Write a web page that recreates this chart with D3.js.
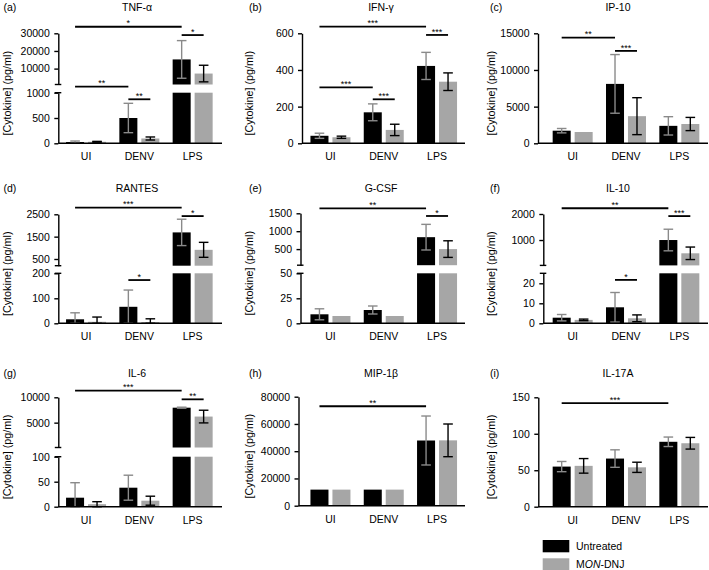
<!DOCTYPE html>
<html><head><meta charset="utf-8">
<script src="https://cdn.jsdelivr.net/npm/d3@7"></script>
<style>body{margin:0;background:#fff}svg{display:block}text{font-family:"Liberation Sans",Arial,sans-serif}</style>
</head><body><svg id="c" width="709" height="570"></svg>
<script>
const categories = ["UI", "DENV", "LPS"];
const seriesNames = ["Untreated", "MON-DNJ"];

// values are [mean, error]
const tnfUntreated = [[25,20],[500,290],[15200,10660]];
const tnfMonDnj    = [[30,8],[95,30],[7200,4700]];
const tnfTicks = [0,500,1000,10000,20000,30000];
const tnfBreak = 1000;
const tnfSig = [["UI",0,"LPS",0,33700,"*"],["LPS",0,"LPS",1,29000,"*"],["UI",0,"DENV",0,1120,"**","low"],["DENV",0,"DENV",1,870,"**"]];

const ifnUntreated = [[41,14],[169,46],[422,74]];
const ifnMonDnj    = [[33,6],[73,31],[336,48]];
const ifnTicks = [0,200,400,600];
const ifnSig = [["UI",0,"LPS",0,636,"***"],["LPS",0,"LPS",1,591,"***"],["UI",0,"DENV",0,305,"***"],["DENV",0,"DENV",1,240,"***"]];

const ipUntreated = [[1720,300],[8100,4000],[2380,1250]];
const ipMonDnj    = [[1540,null],[3700,2520],[2630,900]];
const ipTicks = [0,5000,10000,15000];
const ipSig = [["UI",0,"DENV",0,14400,"**"],["DENV",0,"DENV",1,12600,"***"]];

const rantesUntreated = [[16,26],[66,67],[1690,590]];
const rantesMonDnj    = [[6,19],[5,13],[910,335]];
const rantesTicks = [0,100,200,500,1500,2500];
const rantesBreak = 200;
const rantesSig = [["UI",0,"LPS",0,2800,"***"],["LPS",0,"LPS",1,2420,"*"],["DENV",0,"DENV",1,173,"*"]];

const gcsfUntreated = [[9,5.5],[13.3,4],[833,358]];
const gcsfMonDnj    = [[7.3,null],[7.3,null],[500,232]];
const gcsfTicks = [0,25,50,500,1000,1500];
const gcsfBreak = 50;
const gcsfSig = [["UI",0,"LPS",0,1640,"**"],["LPS",0,"LPS",1,1425,"*"]];

const il10Untreated = [[2.8,1.6],[8,7.4],[1000,415]];
const il10MonDnj    = [[1.7,0.4],[2.5,1.7],[490,240]];
const il10Ticks = [0,10,20,1000,2000];
const il10Break = 25;
const il10Sig = [["UI",0,"LPS",0,2220,"**"],["LPS",0,"LPS",1,1920,"***"],["DENV",0,"DENV",1,21.7,"*"]];

const il6Untreated = [[18,30],[38,25],[7950,100]];
const il6MonDnj    = [[5,5],[12,9],[6200,1250]];
const il6Ticks = [0,50,100,5000,10000];
const il6Break = 100;
const il6Sig = [["UI",0,"LPS",0,11300,"***"],["LPS",0,"LPS",1,9600,"**"]];

const mipUntreated = [[11800,null],[11800,null],[47850,17970]];
const mipMonDnj    = [[11800,null],[11800,null],[47960,12000]];
const mipTicks = [0,20000,40000,60000,80000];
const mipSig = [["UI",0,"LPS",0,73000,"**"]];

const il17Untreated = [[55,7],[66,12],[89,6.5]];
const il17MonDnj    = [[56,10],[54,7],[87,8]];
const il17Ticks = [0,50,100,150];
const il17Sig = [["UI",0,"LPS",0,142,"***"]];

const panels = [
  {tag:"(a)", title:"TNF-\u03B1", s:[tnfUntreated,tnfMonDnj], ticks:tnfTicks, brk:tnfBreak, sig:tnfSig, col:0,row:0, ax:58.3, base:143.3, top:33.3, lowTop:92.7, upBot:84.5},
  {tag:"(b)", title:"IFN-\u03B3", s:[ifnUntreated,ifnMonDnj], ticks:ifnTicks, sig:ifnSig, col:1,row:0, ax:302, base:143.3, top:33.3},
  {tag:"(c)", title:"IP-10", s:[ipUntreated,ipMonDnj], ticks:ipTicks, sig:ipSig, col:2,row:0, ax:538, base:143.3, top:33.3},
  {tag:"(d)", title:"RANTES", s:[rantesUntreated,rantesMonDnj], ticks:rantesTicks, brk:rantesBreak, sig:rantesSig, col:0,row:1, ax:58.3, base:323.3, top:214.3, lowTop:273.3, upBot:265.7},
  {tag:"(e)", title:"G-CSF", s:[gcsfUntreated,gcsfMonDnj], ticks:gcsfTicks, brk:gcsfBreak, sig:gcsfSig, col:1,row:1, ax:300.5, base:323.3, top:213.3, lowTop:273.3, upBot:265.2},
  {tag:"(f)", title:"IL-10", s:[il10Untreated,il10MonDnj], ticks:il10Ticks, brk:il10Break, sig:il10Sig, col:2,row:1, ax:543.3, base:323.3, top:214, lowTop:273.3, upBot:265.4},
  {tag:"(g)", title:"IL-6", s:[il6Untreated,il6MonDnj], ticks:il6Ticks, brk:il6Break, sig:il6Sig, col:0,row:2, ax:58.3, base:506.7, top:397.3, lowTop:456.7, upBot:447.5},
  {tag:"(h)", title:"MIP-1\u03B2", s:[mipUntreated,mipMonDnj], ticks:mipTicks, sig:mipSig, col:1,row:2, ax:298.5, base:505.7, top:396.7},
  {tag:"(i)", title:"IL-17A", s:[il17Untreated,il17MonDnj], ticks:il17Ticks, sig:il17Sig, col:2,row:2, ax:538.3, base:506.7, top:397.3}
];

const colBand = [[59.4,219.3],[303.8,463.7],[546,706]];
const colEnd = [222,465,708];
const colTitleX = [137,381,618];
const colTagX = [3.5,249,490];
const colYLabX = [11.3,252.5,495];
const rowTitleY = [10.7,191.5,376.5];
const barFill = ["#000000","#a6a6a6"];
const errColor = ["#8a8a8a","#000000"];
const FS = 10.5;

const svg = d3.select("#c");
svg.append("rect").attr("width",709).attr("height",570).attr("fill","#fff");
const fmt = d3.format("d");

panels.forEach(p => {
  const g = svg.append("g");
  const x = d3.scaleBand().domain(categories).range(colBand[p.col]).paddingInner(0).paddingOuter(0);
  const bw = x.bandwidth();
  const xi = d3.scaleBand().domain([0,1]).range([(bw-40)/2,(bw+40)/2]).paddingInner(0.18);
  const maxV = p.ticks[p.ticks.length-1];
  let lower, upper, y;
  if (p.brk !== undefined) {
    lower = d3.scaleLinear().domain([0,p.brk]).range([p.base,p.lowTop]);
    upper = d3.scaleLinear().domain([p.brk,maxV]).range([p.upBot,p.top]);
    y = v => v <= p.brk ? lower(v) : upper(v);
  } else {
    lower = d3.scaleLinear().domain([0,maxV]).range([p.base,p.top]);
    y = v => lower(v);
  }
  const cx = (c,si) => x(c) + xi(si) + xi.bandwidth()/2;

  // bars
  p.s.forEach((arr,si) => {
    arr.forEach((d,ci) => {
      const c = categories[ci];
      const x0 = x(c)+xi(si), w = xi.bandwidth();
      const m = d[0];
      if (p.brk !== undefined && m > p.brk) {
        g.append("rect").attr("x",x0).attr("y",p.lowTop).attr("width",w).attr("height",p.base-p.lowTop).attr("fill",barFill[si]);
        g.append("rect").attr("x",x0).attr("y",upper(m)).attr("width",w).attr("height",p.upBot-upper(m)).attr("fill",barFill[si]);
      } else {
        g.append("rect").attr("x",x0).attr("y",y(m)).attr("width",w).attr("height",p.base-y(m)).attr("fill",barFill[si]);
      }
    });
  });
  // error bars
  p.s.forEach((arr,si) => {
    arr.forEach((d,ci) => {
      if (d[1] == null) return;
      const c = categories[ci];
      const xc = cx(c,si);
      let lo = Math.max(0,d[0]-d[1]), hi = d[0]+d[1];
      if (p.brk !== undefined && d[0] > p.brk) lo = Math.max(lo,p.brk);
      const y1 = y(lo), y2 = y(hi);
      const eg = g.append("g").attr("stroke",errColor[si]).attr("stroke-width",1.4).attr("fill","none");
      eg.append("line").attr("x1",xc).attr("x2",xc).attr("y1",y1).attr("y2",y2);
      eg.append("line").attr("x1",xc-4.8).attr("x2",xc+4.8).attr("y1",y2).attr("y2",y2);
      eg.append("line").attr("x1",xc-4.8).attr("x2",xc+4.8).attr("y1",y1).attr("y2",y1);
    });
  });

  // y axis
  const styleAxis = sel => {
    sel.selectAll("text").attr("font-size",FS).attr("font-family","Liberation Sans, Arial, sans-serif").attr("fill","#000");
    sel.selectAll("path,line").attr("stroke","#000").attr("stroke-width",1.4);
    sel.attr("font-family",null).attr("font-size",null);
  };
  if (p.brk !== undefined) {
    const lt = p.ticks.filter(t => t <= p.brk), ut = p.ticks.filter(t => t > p.brk);
    g.append("g").attr("transform",`translate(${p.ax},0)`)
      .call(d3.axisLeft(lower).tickValues(lt).tickSize(4).tickSizeOuter(0).tickPadding(4.5).tickFormat(fmt)).call(styleAxis);
    g.append("g").attr("transform",`translate(${p.ax},0)`)
      .call(d3.axisLeft(upper).tickValues(ut).tickSize(4).tickSizeOuter(0).tickPadding(4.5).tickFormat(fmt)).call(styleAxis);
    [p.lowTop,p.upBot].forEach(yy => {
      g.append("line").attr("x1",p.ax-3.5).attr("x2",p.ax+3).attr("y1",yy).attr("y2",yy).attr("stroke","#000").attr("stroke-width",1.4);
    });
  } else {
    g.append("g").attr("transform",`translate(${p.ax},0)`)
      .call(d3.axisLeft(lower).tickValues(p.ticks).tickSize(4).tickSizeOuter(0).tickPadding(4.5).tickFormat(fmt)).call(styleAxis);
  }
  // x axis
  g.append("line").attr("x1",p.ax).attr("x2",colEnd[p.col]).attr("y1",p.base).attr("y2",p.base).attr("stroke","#000").attr("stroke-width",1.4);
  categories.forEach(c => {
    g.append("text").attr("x",x(c)+bw/2).attr("y",p.base+17).attr("text-anchor","middle").attr("font-size",FS).text(c);
  });

  // significance
  p.sig.forEach(s => {
    const xa = cx(s[0],s[1]), xb = cx(s[2],s[3]);
    const yy = s[6] === "low" ? lower(s[4]) : y(s[4]);
    g.append("line").attr("x1",xa).attr("x2",xb).attr("y1",yy).attr("y2",yy).attr("stroke","#000").attr("stroke-width",1.8);
    g.append("text").attr("x",(xa+xb)/2).attr("y",yy-0.3).attr("text-anchor","middle").attr("font-size",9).text(s[5]);
  });

  // titles
  g.append("text").attr("x",colTitleX[p.col]).attr("y",rowTitleY[p.row]).attr("text-anchor","middle").attr("font-size",FS).text(p.title);
  g.append("text").attr("x",colTagX[p.col]).attr("y",rowTitleY[p.row]).attr("font-size",FS).text(p.tag);
  const ly = (p.top+p.base)/2 + 5;
  g.append("text").attr("transform",`translate(${colYLabX[p.col]},${ly}) rotate(-90)`).attr("text-anchor","middle").attr("font-size",10.8).text("[Cytokine] (pg/ml)");
});

// legend
const lg = svg.append("g");
seriesNames.forEach((n,i) => {
  lg.append("rect").attr("x",542.7).attr("y",540+i*18.3).attr("width",26.6).attr("height",12.3).attr("fill",barFill[i]);
});
lg.append("text").attr("x",576).attr("y",549.5).attr("font-size",FS).text(seriesNames[0]);
const t2 = lg.append("text").attr("x",576).attr("y",567.8).attr("font-size",FS);
t2.append("tspan").text("M");
t2.append("tspan").attr("font-style","italic").text("ON");
t2.append("tspan").text("-DNJ");
</script></body></html>
